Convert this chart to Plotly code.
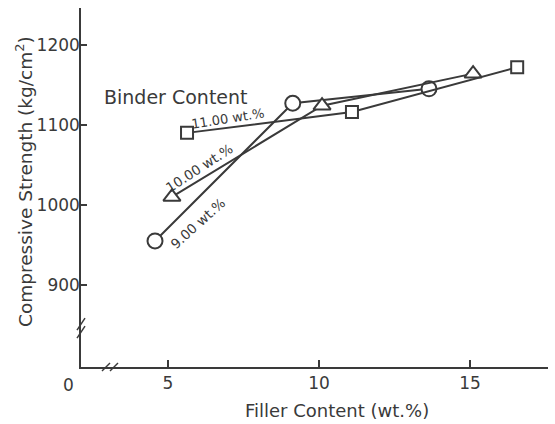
import plotly.graph_objects as go

# Data (Filler content wt.%, compressive strength kg/cm2)
filler_9 = [4.57, 9.13, 13.64]
strength_9 = [955, 1127, 1145]
filler_10 = [5.13, 10.1, 15.1]
strength_10 = [1010, 1124, 1164]
filler_11 = [5.63, 11.09, 16.56]
strength_11 = [1090, 1116, 1172]

x_ticks = [5, 10, 15]
y_ticks = [900, 1000, 1100, 1200]

INK = "#3a3a3a"
FONT = "DejaVu Sans"

fig = go.Figure()
for xs, ys, sym, size in [
    (filler_9, strength_9, "circle", 15),
    (filler_10, strength_10, "triangle-up", 15),
    (filler_11, strength_11, "square", 12),
]:
    fig.add_trace(go.Scatter(
        x=xs, y=ys, mode="lines+markers",
        line=dict(color=INK, width=2),
        marker=dict(symbol=sym, size=size, color="white",
                    line=dict(color=INK, width=2)),
        showlegend=False, cliponaxis=False))

fig.update_layout(
    width=555, height=424,
    margin=dict(l=81, r=7, t=8, b=57),
    paper_bgcolor="white", plot_bgcolor="white",
    font=dict(family=FONT, color=INK, size=17),
    xaxis=dict(range=[2.12, 17.58], tickvals=x_ticks, showgrid=False,
               zeroline=False, showline=True, linecolor=INK, linewidth=1.5,
               ticks="inside", ticklen=7, tickcolor=INK, tickwidth=1.5,
               tickfont=dict(size=17)),
    yaxis=dict(range=[797.5, 1246], tickvals=y_ticks, showgrid=False,
               zeroline=False, showline=True, linecolor=INK, linewidth=1.5,
               ticks="inside", ticklen=6, tickcolor=INK, tickwidth=1.5,
               tickfont=dict(size=17), ticklabelstandoff=-4),
)

# axis titles
fig.add_annotation(text="Filler Content (wt.%)", xref="paper", yref="paper",
                   x=(337 - 81) / 467, y=0, yshift=-43, showarrow=False,
                   font=dict(size=18), xanchor="center", yanchor="middle")
fig.add_annotation(text="Compressive Strength (kg/cm<sup>2</sup>)", xref="paper", yref="paper",
                   x=0, xshift=-57, y=(367 - 182) / 359, textangle=-90, showarrow=False,
                   font=dict(size=18.5), xanchor="center", yanchor="middle")
# zero label at broken axis
fig.add_annotation(text="0", xref="paper", yref="paper", x=0, xshift=-13, y=0,
                   yshift=-18, showarrow=False, font=dict(size=17),
                   xanchor="center", yanchor="middle")

# legend heading and line labels
fig.add_annotation(text="Binder Content", x=5.26, y=1135, showarrow=False,
                   font=dict(size=19), xanchor="center", yanchor="middle")
fig.add_annotation(text="11.00 wt.%", x=7.0, y=1108, textangle=-9, showarrow=False,
                   font=dict(size=13), xanchor="center", yanchor="middle")
fig.add_annotation(text="10.00 wt.%", x=6.03, y=1046, textangle=-33, showarrow=False,
                   font=dict(size=13.5), xanchor="center", yanchor="middle")
fig.add_annotation(text="9.00 wt.%", x=6.0, y=977, textangle=-42, showarrow=False,
                   font=dict(size=13.5), xanchor="center", yanchor="middle")

# axis break marks
for dy in (-4, 4):
    fig.add_shape(type="line", xref="paper", yref="paper",
                  xsizemode="pixel", xanchor=(110 - 81) / 467,
                  x0=-4 + dy, x1=4 + dy, ysizemode="pixel", yanchor=0,
                  y0=-4, y1=4, line=dict(color=INK, width=1.5))
for dy in (-4, 4):
    fig.add_shape(type="line", xref="paper", yref="y",
                  xsizemode="pixel", xanchor=0,
                  x0=-4, x1=4, ysizemode="pixel", yanchor=846,
                  y0=-6 + dy, y1=6 + dy, line=dict(color=INK, width=1.5))

fig.write_html("out.html")
